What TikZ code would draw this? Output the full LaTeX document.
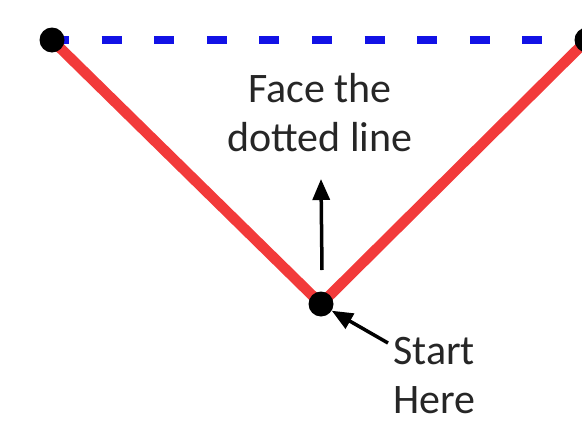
\documentclass[tikz,border=0pt]{standalone}
\usepackage{fontspec}
\setmainfont{Carlito}
\usetikzlibrary{arrows.meta}
\definecolor{legred}{RGB}{242,58,58}
\definecolor{dashblue}{RGB}{18,18,230}
\begin{document}
\begin{tikzpicture}[x=1pt,y=-1pt,
  leg/.style={draw=legred,line width=10.5pt},
  baseline/.style={draw=dashblue,line width=8pt,dash pattern=on 20pt off 32.6pt,dash phase=3pt},
  vertex/.style={circle,fill=black,inner sep=0pt,minimum size=25pt},
  pointer/.style={draw=black,line width=3.5pt,-{Triangle[length=21pt,width=17pt]}},
  label/.style={font=\fontsize{42}{49}\selectfont,text=black!85,inner sep=0pt}]
  \useasboundingbox (0,0) rectangle (582,426);
  % corners of the triangle
  \coordinate (L) at (52,40);
  \coordinate (R) at (587,40);
  \coordinate (B) at (321,304);
  % dashed top edge and the two red legs
  \draw[baseline] (L) -- (R);
  \draw[leg] (L) -- (B) -- (R);
  \node[vertex] (nl) at (L) {};
  \node[vertex] (nr) at (R) {};
  \node[vertex] (nb) at (B) {};
  % direction to face
  \node[label,align=center,anchor=base] (face) at (320,151) {Face the\\dotted line};
  \coordinate (upfoot) at (322,270);
  \coordinate (uptip) at (321,179);
  \draw[pointer] (upfoot) -- (uptip);
  % starting point
  \node[label,align=left,anchor=base west] (start) at (393,413) {Start\\Here};
  \coordinate (stail) at (388,343);
  \draw[pointer] (stail) -- (nb.-32);
\end{tikzpicture}
\end{document}
